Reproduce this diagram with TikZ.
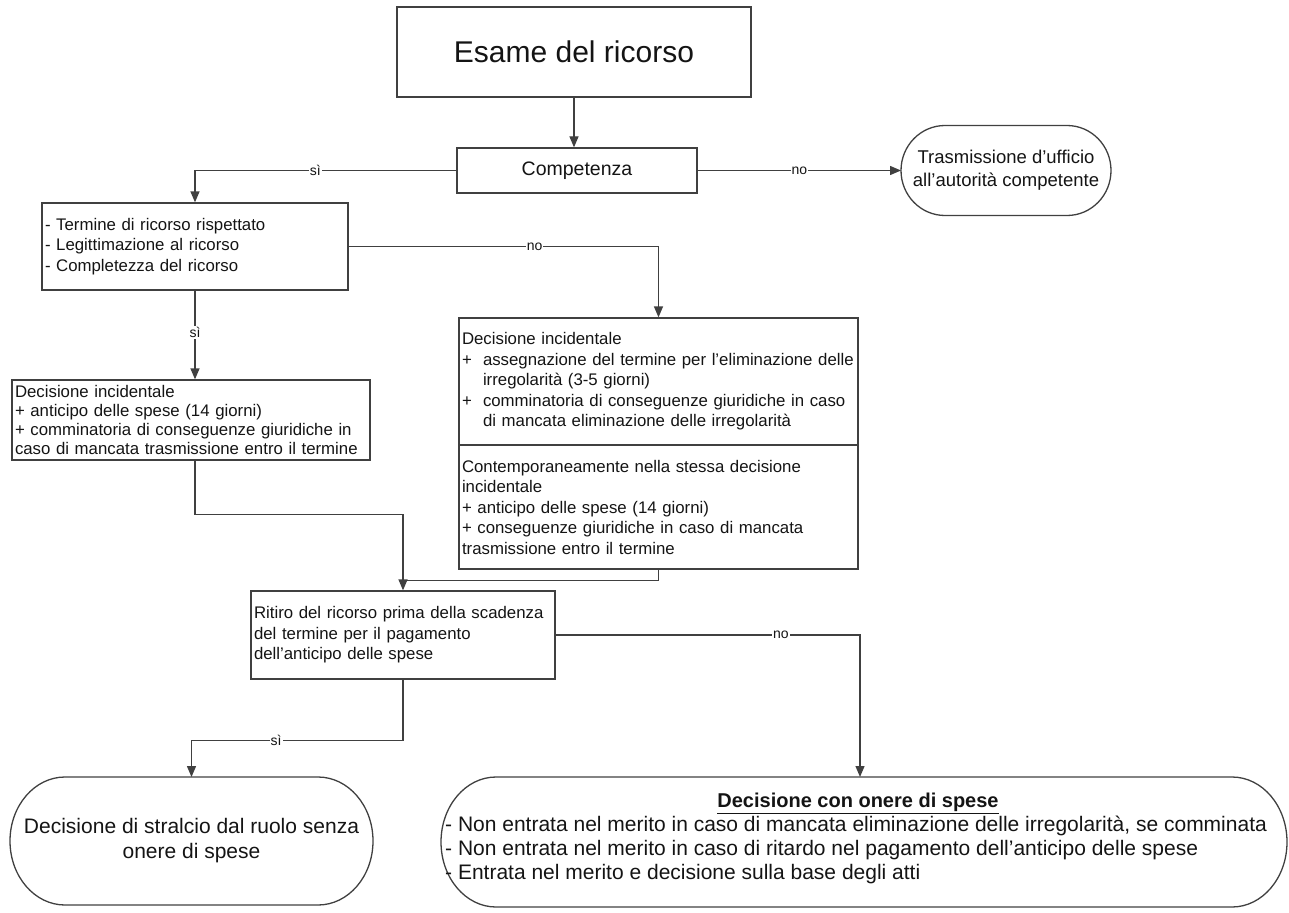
\documentclass[tikz,border=0pt]{standalone}
\usepackage{fontspec}
\setmainfont{Liberation Sans}
\usepackage{xcolor}
\usepackage{tikz}
\usetikzlibrary{arrows.meta,positioning,calc}
\definecolor{flowline}{RGB}{64,64,64}
\definecolor{flowtext}{RGB}{20,20,20}
\newcommand{\boxfont}{\fontsize{16.8}{20.5}\selectfont}
\newcommand{\lblfont}{\fontsize{14}{15}\selectfont}
\newcommand{\plusitem}{\makebox[21pt][l]{+}}
% outline of a terminal node: flat top and bottom, half-ellipse ends
\newcommand{\drawterminal}[3]{%
  \draw[conn] ([xshift=#2]#1.north west) -- ([xshift=-#2]#1.north east)
    arc[start angle=90, end angle=-90, x radius=#2, y radius=#3]
    -- ([xshift=#2]#1.south west)
    arc[start angle=270, end angle=90, x radius=#2, y radius=#3] -- cycle;}

\tikzset{
  box/.style={draw=flowline, line width=1.3pt, rectangle, inner sep=3pt,
    align=left, font=\boxfont, text=flowtext},
  terminal/.style={rectangle, inner sep=2pt, outer sep=0pt, align=center, text=flowtext},
  conn/.style={draw=flowline, line width=1.3pt},
  arr/.style={conn, -{Triangle[length=11pt,width=9pt]}},
  lbl/.style={fill=white, font=\lblfont, inner sep=1pt, text=flowtext}
}

\begin{document}
\begin{tikzpicture}[x=1pt,y=-1pt]
    \useasboundingbox (0,0) rectangle (1289,912);

    % Top of the chart
    \node[box, minimum width=354pt, minimum height=90pt, align=center,
      font=\fontsize{30}{34}\selectfont] (esame) at (574,52) {Esame del ricorso};
    \node[box, minimum width=240pt, minimum height=45pt, align=center,
      font=\fontsize{19.5}{22}\selectfont] (comp) at (577,170.5) {Competenza};
    \node[terminal, minimum width=210pt, minimum height=90pt,
      font=\fontsize{18.5}{23}\selectfont] (trasm) at (1006,170.5)
      {Trasmissione d'ufficio\\all'autorità competente};
    \drawterminal{trasm}{44pt}{45pt}

    % Requirements and incidental decisions
    \node[box, text width=300pt, minimum height=87pt] (req) at (195,246.5)
      {- Termine di ricorso rispettato\\- Legittimazione al ricorso\\- Completezza del ricorso};
    \node[box, text width=352pt, minimum height=80pt, font=\fontsize{16.8}{19}\selectfont] (dec1) at (191,420)
      {Decisione incidentale\\+ anticipo delle spese (14 giorni)\\+ comminatoria di conseguenze giuridiche in\\caso di mancata trasmissione entro il termine};
    \node[box, text width=393pt, minimum height=127pt] (inc2a) at (658.5,381.5)
      {Decisione incidentale\\
       \plusitem assegnazione del termine per l'eliminazione delle\\
       \hspace*{21pt}irregolarità (3-5 giorni)\\
       \plusitem comminatoria di conseguenze giuridiche in caso\\
       \hspace*{21pt}di mancata eliminazione delle irregolarità};
    \node[box, text width=393pt, minimum height=124pt] (inc2b) at (658.5,507)
      {Contemporaneamente nella stessa decisione\\incidentale\\+ anticipo delle spese (14 giorni)\\+ conseguenze giuridiche in caso di mancata\\trasmissione entro il termine};

    % Withdrawal and final decisions
    \node[box, text width=298pt, minimum height=88pt] (ritiro) at (403,635)
      {Ritiro del ricorso prima della scadenza\\del termine per il pagamento\\dell'anticipo delle spese};
    \node[terminal, minimum width=363pt, minimum height=128pt,
      font=\fontsize{21}{25}\selectfont] (stralcio) at (191.5,841)
      {Decisione di stralcio dal ruolo senza\\onere di spese};
    \drawterminal{stralcio}{55pt}{64pt}
    \node[terminal, minimum width=846pt, minimum height=130pt] (onere) at (864,842) {};
    \drawterminal{onere}{55pt}{65pt}
    \node[font=\fontsize{20}{22}\selectfont\bfseries, text=flowtext, inner sep=0pt] (onereT) at (858,803)
      {\underline{Decisione con onere di spese}};
    \node[font=\fontsize{21}{24}\selectfont, text=flowtext, align=left, anchor=north west, inner sep=0pt]
      (onereL) at (445,816)
      {- Non entrata nel merito in caso di mancata eliminazione delle irregolarità, se comminata\\
       - Non entrata nel merito in caso di ritardo nel pagamento dell'anticipo delle spese\\
       - Entrata nel merito e decisione sulla base degli atti};

    % Connectors
    \draw[arr] (esame.south) -- (esame.south |- comp.north);
    \draw[arr] (comp.east) -- node[lbl] {no} (comp.east -| trasm.west);
    \draw[arr] (comp.west) -| node[lbl, pos=0.27] {sì} (req.north);
    \draw[arr] (req.east) -| node[lbl, pos=0.3] {no} (inc2a.north);
    \draw[arr] (req.south) -- node[lbl, pos=0.47] {sì} (req.south |- dec1.north);
    \draw[conn] (inc2b.south) |- ([yshift=10pt]ritiro.north);
    \draw[arr] (dec1.south -| req.south) -- ++(0,54) -| (ritiro.north);
    \draw[arr] (ritiro.east) -| node[lbl, pos=0.37] {no} ([xshift=-4pt]onere.north);
    \draw[arr] (ritiro.south) -- ++(0,61) -| node[lbl, pos=0.3] {sì} (stralcio.north);
\end{tikzpicture}
\end{document}
